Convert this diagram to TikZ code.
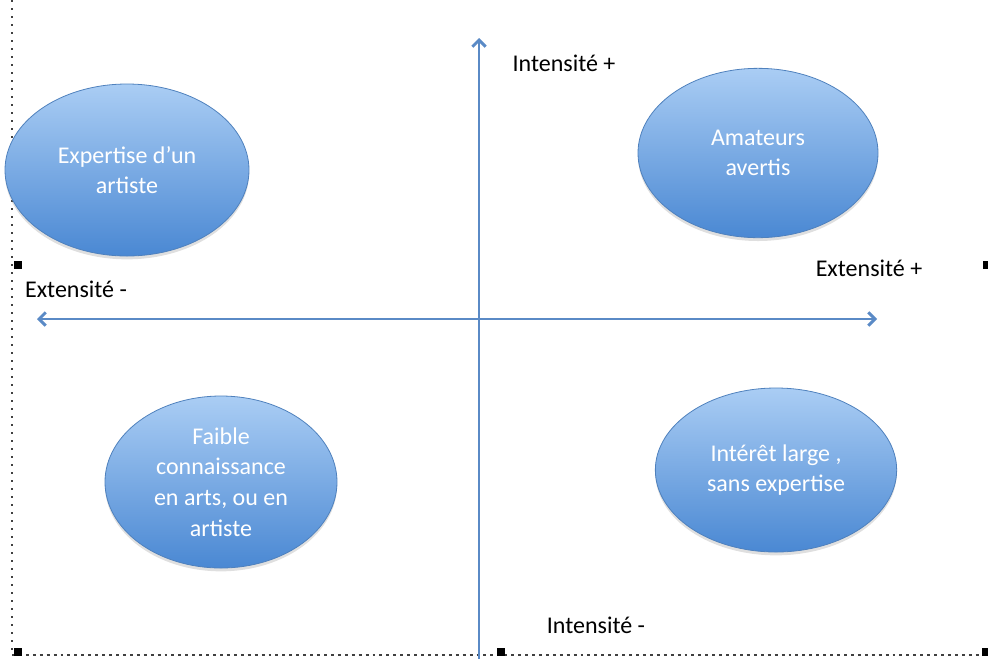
\documentclass[tikz,border=0pt]{standalone}
\usepackage{fontspec}
\setmainfont{Carlito}
\usetikzlibrary{arrows.meta,shapes.geometric,shadows,positioning}

\definecolor{axisblue}{HTML}{5A8AC6}
\definecolor{blobtop}{HTML}{AACDF4}
\definecolor{blobbot}{HTML}{4A88D3}
\definecolor{blobedge}{HTML}{4F81BD}

\tikzset{
  blob/.style={ellipse, draw=blobedge, line width=0.6pt,
    top color=blobtop, bottom color=blobbot, text=white,
    align=center, inner sep=0pt, minimum width=180pt, minimum height=127pt,
    font=\fontsize{18}{23}\selectfont,
    drop shadow={opacity=0.25, shadow xshift=0pt, shadow yshift=-2.5pt}},
  axislabel/.style={font=\fontsize{18}{22}\selectfont, inner sep=0pt},
  axisline/.style={draw=axisblue, line width=2.2pt, <->}
}

\begin{document}
\begin{tikzpicture}[x=0.75pt,y=-0.75pt,>={Straight Barb[length=5pt,width=10pt]}]
\useasboundingbox (0,0) rectangle (988,658);

% frame of the selection
\draw[black!75, line width=1.4pt, dash pattern=on 1.4pt off 4.6pt] (12,0) -- (12,655);
\draw[black!75, line width=1.2pt, dash pattern=on 2.2pt off 3pt] (12,655) -- (988,655);
\foreach \hx/\hy in {18/265, 18/652, 501/652, 987/265, 986/652}
  \fill (\hx-4,\hy-4) rectangle ++(8,8);

% axes
\coordinate (top) at (479,38);
\coordinate (bottom) at (479,660);
\coordinate (left) at (37,319);
\coordinate (right) at (877,319);
\draw[axisline, <-] (top) -- (bottom);
\draw[axisline] (left) -- (right);

\node[axislabel] (intplus) at (564,63) {Intensité +};
\node[axislabel] (intminus) at (596,625) {Intensité -};
\node[axislabel] (extplus) at (869,268) {Extensité +};
\node[axislabel] (extminus) at (76,289) {Extensité -};

% quadrants
\node[blob, minimum width=183pt, minimum height=129pt] (expert) at (127,170) {Expertise d’un\\artiste};
\node[blob] (amateur) at (758,153) {Amateurs\\avertis};
\node[blob, minimum width=174pt, minimum height=129pt] (faible) at (221,482) {Faible\\connaissance\\en arts, ou en\\artiste};
\node[blob, minimum width=181pt, minimum height=123pt] (interet) at (776,470) {Intérêt large ,\\sans expertise};
\end{tikzpicture}
\end{document}
